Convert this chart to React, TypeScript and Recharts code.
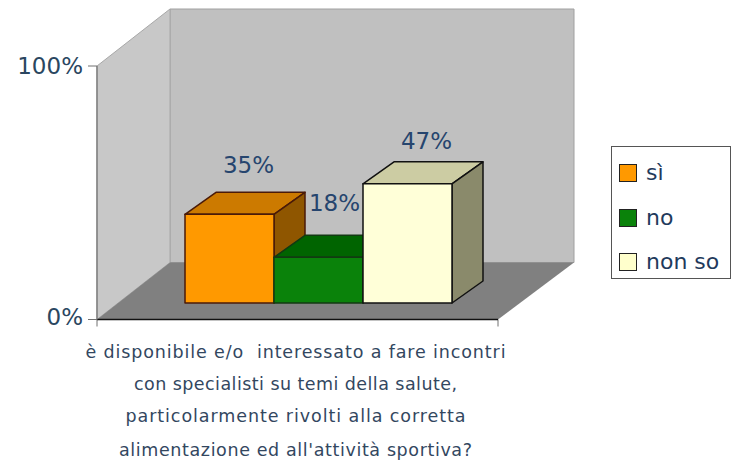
import React from 'react';
import { BarChart, Bar, XAxis, YAxis, Legend, LabelList, usePlotArea } from 'recharts';

const questionLines = [
  'è disponibile e/o  interessato a fare incontri',
  'con specialisti su temi della salute,',
  'particolarmente rivolti alla corretta',
  "alimentazione ed all'attività sportiva?",
];
const lineWidths = [420, 323, 340, 353];
const category = ['domanda'];
const siValues = [35];
const noValues = [18];
const nonSoValues = [47];
const yTicks = [0, 100];

const data = category.map((c, i) => ({ c, si: siValues[i], no: noValues[i], nonSo: nonSoValues[i] }));

const FONT = '"DejaVu Sans", sans-serif';
const INK = '#26456e';
const WALL_DX_LEFT = 73;
const WALL_DX_RIGHT = 76;
const WALL_DY = 57;
const BAR_SHIFT_X = 21.5;
const BAR_SHIFT_Y = 16.5;
const BAR_DX = 31;
const BAR_DY = 22;

function Walls() {
  const p = usePlotArea();
  if (!p) return null;
  const l = p.x, r = p.x + p.width, t = p.y, b = p.y + p.height;
  const pts = (a: number[][]) => a.map((q) => q.join(',')).join(' ');
  const bl = l + WALL_DX_LEFT;
  const br = r + WALL_DX_RIGHT;
  return (
    <g>
      <polygon points={pts([[bl, t - WALL_DY], [br, t - WALL_DY], [br, b - WALL_DY], [bl, b - WALL_DY]])} fill="#c0c0c0" stroke="#a0a0a0" />
      <polygon points={pts([[l, t], [bl, t - WALL_DY], [bl, b - WALL_DY], [l, b]])} fill="#c8c8c8" stroke="#a8a8a8" />
      <polygon points={pts([[l, b], [r, b], [br, b - WALL_DY], [bl, b - WALL_DY]])} fill="#808080" />
      <line x1={l} y1={b} x2={l} y2={b + 7} stroke="#707070" />
      <line x1={r} y1={b} x2={r} y2={b + 7} stroke="#707070" />
    </g>
  );
}

const box3d = (front: string, top: string, side: string, edge: string) => (props: any) => {
  const { x, y, width, height } = props;
  const fx = x + BAR_SHIFT_X;
  const fy = y - BAR_SHIFT_Y;
  const fr = fx + width;
  const fb = fy + height;
  return (
    <g stroke={edge} strokeWidth={1.5} strokeLinejoin="round">
      <polygon points={`${fx},${fy} ${fr},${fy} ${fr + BAR_DX},${fy - BAR_DY} ${fx + BAR_DX},${fy - BAR_DY}`} fill={top} />
      <polygon points={`${fr},${fy} ${fr + BAR_DX},${fy - BAR_DY} ${fr + BAR_DX},${fb - BAR_DY} ${fr},${fb}`} fill={side} />
      <rect x={fx} y={fy} width={width} height={height} fill={front} />
    </g>
  );
};

const valueLabel = (dx: number, dy: number) => (props: any) => {
  const { x, y, width, value } = props;
  return (
    <text x={x + width / 2 + BAR_SHIFT_X + dx} y={y - BAR_SHIFT_Y + dy} textAnchor="middle" fontFamily={FONT} fontSize={23} fill={INK}>
      {value}%
    </text>
  );
};

const QuestionTick = (props: any) => {
  const { x, y } = props;
  const baselines = [30, 62, 94, 128];
  return (
    <g>
      {questionLines.map((line, i) => (
        <text key={i} x={x - 2} y={y + baselines[i]} textAnchor="middle" fontFamily={FONT} fontSize={17.5} fill="#33475f" textLength={lineWidths[i]} lengthAdjust="spacing" xmlSpace="preserve">
          {line}
        </text>
      ))}
    </g>
  );
};

const PercentTick = (props: any) => {
  const { x, y, payload } = props;
  return (
    <text x={x} y={y + (payload.value === 0 ? 5 : 8)} textAnchor="end" fontFamily={FONT} fontSize={23} fill="#2a4660">
      {payload.value}%
    </text>
  );
};

const LegendBox = (props: any) => {
  const items = props.payload || [];
  const rows = [16, 61, 105];
  return (
    <div style={{ position: 'relative', width: 120, height: 133, border: '1.5px solid #555', background: '#fff', boxSizing: 'border-box', fontFamily: FONT, fontSize: 22, color: '#1f3a5c' }}>
      {items.map((it: any, i: number) => (
        <div key={i} style={{ position: 'absolute', left: 7, top: rows[i], display: 'flex', alignItems: 'center', height: 19, whiteSpace: 'nowrap' }}>
          <span style={{ display: 'inline-block', width: 18, height: 18, boxSizing: 'border-box', border: '1.5px solid #222', background: it.color, marginRight: 9 }} />
          <span>{it.value}</span>
        </div>
      ))}
    </div>
  );
};

export default function App() {
  return (
    <div style={{ position: 'absolute', left: 0, top: 0, width: 737, height: 462, background: '#fff' }}>
      <BarChart
        width={737}
        height={462}
        data={data}
        margin={{ top: 66, right: 239, bottom: 2.5, left: 17 }}
        barGap={0}
        barCategoryGap={66.5}
      >
        <Walls />
        <XAxis dataKey="c" height={140} axisLine={{ stroke: '#111', strokeWidth: 1.5 }} tickLine={false} tick={<QuestionTick />} interval={0} />
        <YAxis
          width={80}
          domain={[0, 100]}
          ticks={yTicks}
          tickSize={9}
          tickMargin={5}
          tickLine={{ stroke: '#707070' }}
          axisLine={{ stroke: '#808080', strokeWidth: 1.5 }}
          tick={<PercentTick />}
        />
        <Bar dataKey="si" name="sì" fill="#ff9900" isAnimationActive={false} shape={box3d('#ff9900', '#cc7a00', '#8f5600', '#4a1a08')}>
          <LabelList dataKey="si" content={valueLabel(19, -41)} />
        </Bar>
        <Bar dataKey="no" name="no" fill="#0a820a" isAnimationActive={false} shape={box3d('#0a820a', '#006400', '#004d00', '#123a12')}>
          <LabelList dataKey="no" content={valueLabel(16, -46)} />
        </Bar>
        <Bar dataKey="nonSo" name="non so" fill="#ffffcc" isAnimationActive={false} shape={box3d('#ffffd8', '#cccca3', '#8a8a6b', '#111')}>
          <LabelList dataKey="nonSo" content={valueLabel(19, -35)} />
        </Bar>
        <Legend
          layout="vertical"
          align="center"
          verticalAlign="middle"
          itemSorter={null}
          content={<LegendBox />}
          wrapperStyle={{ position: 'absolute', left: 611, top: 146, width: 120, height: 133 }}
        />
      </BarChart>
    </div>
  );
}
